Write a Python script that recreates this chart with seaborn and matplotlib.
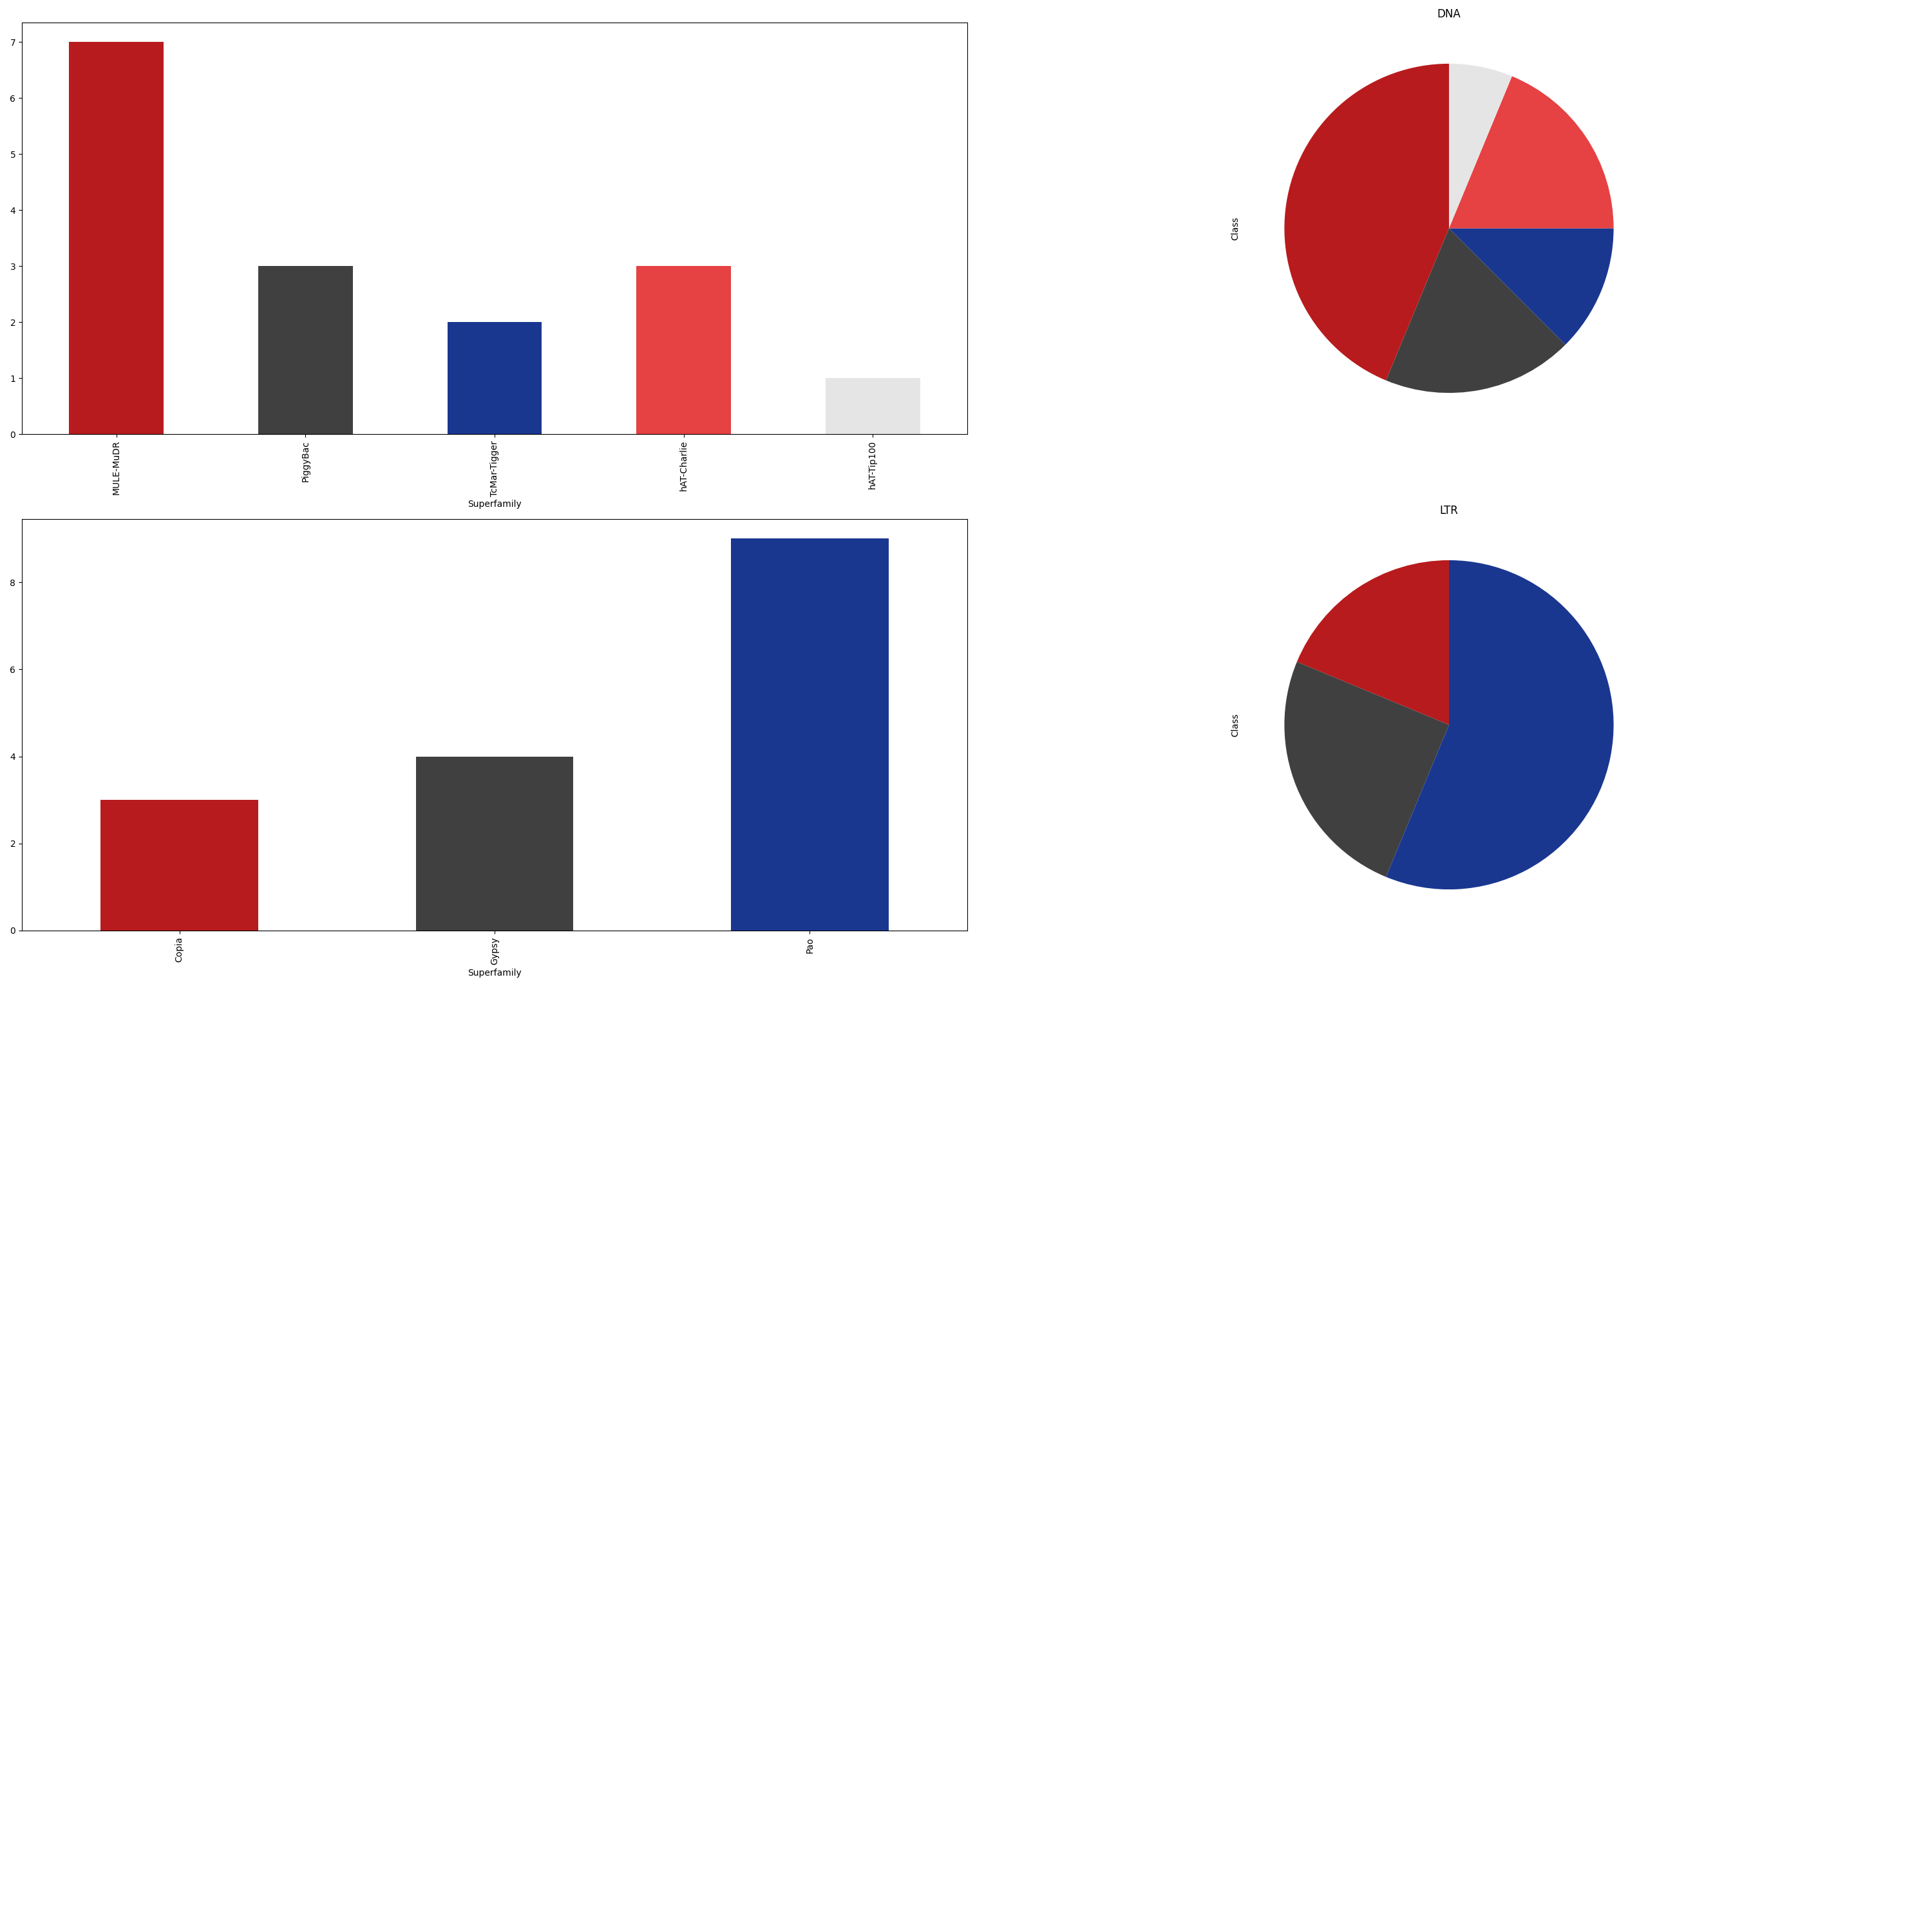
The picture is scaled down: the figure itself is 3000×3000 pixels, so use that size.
import pandas as pd
import matplotlib
matplotlib.use("Agg")
import matplotlib.pyplot as plt
import seaborn as sns

# DNA superfamilies
dna_superfamily = ["MULE-MuDR", "PiggyBac", "TcMar-Tigger", "hAT-Charlie", "hAT-Tip100"]
dna_counts = [7, 3, 2, 3, 1]
dna_colors = ["#B81B1D", "#404040", "#1A3790", "#E64143", "#E5E5E5"]

# LTR superfamilies
ltr_superfamily = ["Copia", "Gypsy", "Pao"]
ltr_counts = [3, 4, 9]
ltr_colors = ["#B81B1D", "#404040", "#1A3790"]

classes = ["DNA", "LTR"]

dna = pd.DataFrame({"Superfamily": dna_superfamily, "count": dna_counts})
ltr = pd.DataFrame({"Superfamily": ltr_superfamily, "count": ltr_counts})

fig, axes = plt.subplots(4, 2, figsize=(30, 30), dpi=100)
fig.subplots_adjust(left=34/3000, right=2984/3000, top=1-35/3000, bottom=13/3000,
                    wspace=0.0095, hspace=132/639)
for ax in axes[2:, :].ravel():
    fig.delaxes(ax)

for row, (name, df, cols) in enumerate(zip(classes, [dna, ltr], [dna_colors, ltr_colors])):
    # bar chart
    ax = axes[row, 0]
    sns.barplot(data=df, x="Superfamily", y="count", hue="Superfamily", palette=cols,
                width=0.5, saturation=1, errorbar=None, legend=False, ax=ax)
    ax.set_ylabel("")
    ax.set_xlabel("Superfamily")
    ax.tick_params(axis="x", labelrotation=90)
    # pie chart
    pax = axes[row, 1]
    pax.pie(df["count"], colors=cols, startangle=90)
    pax.set_title(name)
    pax.set_ylabel("Class")

fig.savefig("out.png", dpi=100)
